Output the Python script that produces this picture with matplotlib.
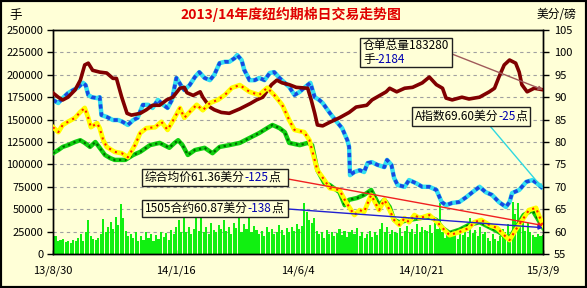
import numpy as np
import matplotlib
matplotlib.use('Agg')
import matplotlib.pyplot as plt
from matplotlib.patches import Rectangle

plt.rcParams['font.family'] = ['Noto Sans CJK SC', 'DejaVu Sans']

# ---------------- data ----------------
title = '2013/14年度纽约期棉日交易走势图'
left_unit = '手'
right_unit = '美分/磅'

x_tick_days = [0, 139, 278, 417, 556]
x_tick_labels = ['13/8/30', '14/1/16', '14/6/4', '14/10/21', '15/3/9']
left_ticks = [0, 25000, 50000, 75000, 100000, 125000, 150000, 175000, 200000, 225000, 250000]
right_ticks = [55, 60, 65, 70, 75, 80, 85, 90, 95, 100, 105]

# certificated stock (left axis, lots)
stock_days = [0, 6, 11, 17, 25, 31, 36, 40, 45, 53, 61, 68, 72, 78, 84, 89, 99, 106, 113, 121,
              129, 136, 144, 149, 152, 159, 167, 170, 178, 183, 191, 200, 212, 224, 231, 238, 248,
              254, 260, 268, 276, 289, 293, 297, 300, 306, 314, 325, 336, 344, 356, 362, 378, 382,
              390, 399, 408, 419, 427, 435, 442, 446, 453, 464, 472, 484, 495, 501, 506, 512, 518,
              525, 529, 532, 538, 546, 556]
stock_vals = [179700, 175000, 171900, 175000, 183000, 194000, 211000, 213000, 205000, 203000,
              202000, 196000, 196000, 175000, 157000, 155000, 157000, 161000, 166000, 166000,
              172000, 175000, 185000, 186000, 180000, 177000, 181000, 175000, 164000, 161000,
              158000, 157000, 162000, 168000, 172000, 175000, 189000, 194000, 191000, 189000,
              186000, 185000, 172000, 157000, 144000, 143000, 147000, 152000, 158000, 164000,
              166000, 172000, 181000, 185000, 181000, 185000, 186000, 191000, 197500, 189000,
              185000, 174000, 172000, 175000, 173000, 175000, 181000, 185000, 197500, 211000,
              216500, 213000, 203000, 189000, 181000, 185000, 183280]

# Cotlook A index (right axis)
aidx_days = [0, 6, 11, 17, 23, 28, 34, 37, 40, 44, 50, 53, 55, 61, 68, 74, 79, 85, 91, 96, 102,
             108, 113, 119, 125, 130, 135, 140, 145, 149, 155, 161, 166, 172, 178, 183, 189, 195,
             200, 206, 209, 214, 217, 223, 229, 234, 240, 246, 251, 257, 263, 268, 274, 280, 285,
             292, 297, 302, 306, 314, 322, 328, 334, 336, 337, 342, 348, 353, 357, 362, 368, 376,
             379, 384, 387, 391, 399, 404, 412, 419, 427, 435, 441, 446, 453, 461, 469, 476, 484,
             491, 498, 506, 514, 518, 521, 529, 537, 544, 549, 556]
aidx_vals = [89.4, 88.7, 89.8, 90.9, 91.6, 92.1, 93.2, 92.7, 90.5, 90.0, 89.8, 90.0, 86.0, 85.6,
             84.9, 84.9, 84.5, 83.8, 84.9, 85.4, 88.3, 88.3, 87.6, 89.4, 88.3, 87.6, 89.4, 94.3,
             92.7, 91.6, 92.7, 94.5, 95.6, 94.3, 93.8, 95.0, 97.6, 97.9, 97.9, 98.7, 99.4, 98.3,
             96.1, 93.8, 93.8, 94.3, 93.8, 95.4, 95.6, 94.3, 93.2, 92.3, 90.5, 91.2, 92.1, 93.2,
             90.0, 89.4, 88.7, 86.5, 84.5, 83.1, 80.4, 78.9, 72.6, 73.3, 73.7, 73.3, 75.3, 75.5,
             74.9, 74.4, 76.0, 74.9, 72.0, 70.4, 70.0, 71.5, 70.8, 70.0, 70.0, 69.3, 66.6, 65.9,
             66.4, 66.6, 67.7, 68.8, 70.0, 68.8, 68.2, 66.6, 65.5, 66.6, 68.6, 69.3, 71.1, 71.5,
             70.8, 69.60]

# combined average price (right axis)
avg_days = [0, 6, 11, 17, 25, 31, 36, 40, 43, 50, 53, 57, 61, 70, 78, 85, 93, 99, 106, 116, 123,
            130, 138, 144, 149, 155, 163, 170, 178, 187, 195, 203, 212, 223, 234, 243, 251, 260,
            268, 274, 285, 291, 300, 308, 314, 325, 331, 336, 342, 348, 353, 361, 370, 376, 382,
            387, 393, 399, 404, 410, 416, 427, 436, 444, 450, 461, 472, 478, 486, 495, 504, 512,
            518, 525, 534, 540, 548, 556]
avg_vals = [83.3, 82.2, 83.8, 84.5, 85.4, 86.7, 87.6, 85.4, 83.3, 84.2, 83.1, 80.4, 78.9, 77.8,
            77.5, 76.6, 79.3, 82.0, 83.1, 83.3, 84.5, 82.7, 85.4, 87.6, 85.4, 86.7, 88.3, 87.1,
            88.7, 89.4, 90.5, 92.1, 92.7, 91.2, 90.5, 92.1, 90.5, 88.3, 84.9, 82.7, 82.2, 80.4,
            73.7, 71.5, 69.7, 69.3, 67.1, 65.5, 63.7, 64.8, 64.4, 68.2, 64.8, 67.1, 64.8, 62.6,
            61.5, 63.0, 62.1, 63.7, 63.0, 63.7, 62.1, 60.4, 59.2, 59.9, 60.8, 62.1, 62.6, 61.5,
            60.8, 59.2, 58.1, 60.4, 63.0, 64.8, 65.3, 61.36]

# 1505 contract (right axis)
fut_days = [0, 6, 11, 17, 25, 31, 36, 42, 48, 53, 59, 65, 70, 82, 91, 99, 110, 121, 132, 138, 142,
            147, 153, 161, 172, 181, 189, 200, 212, 223, 234, 243, 249, 257, 263, 268, 280, 289,
            294, 300, 308, 314, 325, 331, 336, 345, 353, 361, 370, 376, 382, 387, 393, 404, 416,
            427, 435, 442, 450, 461, 472, 484, 495, 506, 512, 518, 525, 534, 544, 556]
fut_vals = [77.5, 78.2, 78.9, 79.3, 80.0, 80.4, 79.8, 78.9, 80.0, 78.7, 77.1, 76.4, 76.0, 76.0,
            77.1, 77.8, 79.3, 79.8, 78.7, 79.8, 80.4, 79.3, 77.1, 78.2, 78.7, 77.5, 78.9, 79.3,
            79.8, 80.9, 82.0, 83.1, 83.8, 83.1, 82.2, 79.8, 79.3, 79.8, 79.3, 73.7, 70.8, 70.4,
            68.8, 65.9, 67.1, 67.5, 68.2, 69.3, 65.9, 67.1, 65.5, 62.6, 62.1, 62.6, 63.0, 63.3,
            62.6, 60.8, 59.7, 60.4, 61.5, 62.1, 61.0, 59.9, 59.0, 58.6, 60.8, 63.7, 64.8, 60.87]

# daily volume (left axis, lots)
volume = [18000, 20000, 14000, 16000, 17000, 13000, 15000,
          12000, 16000, 14000, 18000, 22000, 15000,
          25000, 38000, 20000, 17000,
          16000, 18000, 22000,
          39000, 24000, 30000, 36000, 28000,
          41000, 32000, 56000, 40000,
          26000, 20000, 22000, 18000, 24000, 15000,
          20000, 16000, 24000, 18000, 22000, 14000,
          21000, 17000, 25000, 19000, 23000, 16000,
          27000, 22000, 30000, 38000, 25000, 40000,
          24000, 30000, 22000, 28000, 41000, 26000,
          43000, 25000, 30000, 22000, 35000, 27000,
          24000, 32000, 28000, 38000, 26000, 30000,
          22000, 35000, 29000, 40000, 25000, 33000,
          28000, 42000, 24000, 31000, 27000, 22000,
          26000, 20000, 30000, 24000, 28000, 22000,
          25000, 32000, 27000, 21000, 29000, 24000,
          30000, 26000, 34000, 28000, 31000, 57000,
          47000, 38000, 35000, 40000, 26000, 22000,
          24000, 18000, 27000, 22000, 25000, 20000,
          23000, 28000, 21000, 26000, 19000, 24000,
          27000, 22000, 29000, 20000, 25000, 18000,
          22000, 26000, 19000, 24000, 21000, 28000,
          35000, 24000, 30000, 22000, 27000, 25000,
          23000, 29000, 20000, 26000, 31000, 24000,
          28000, 22000, 33000, 25000, 30000, 27000,
          26000, 32000, 23000, 35000, 28000, 57000,
          25000, 18000, 27000, 22000, 20000, 26000,
          17000, 24000, 21000, 28000, 19000, 40000,
          23000, 27000, 20000, 30000, 22000, 25000,
          18000, 15000, 22000, 17000, 14000, 20000,
          28000, 25000, 33000, 22000, 58000, 45000,
          57000, 30000, 38000, 26000, 35000, 24000,
          21000, 19000, 22000, 20000, 21000]

stock_note = [[('仓单总量183280', 'black')], [('手', 'black'), ('-2184', '#0000B0')]]
aidx_note = [('A指数69.60美分', 'black'), ('-25', '#0000B0'), ('点', 'black')]
avg_note = [('综合均价61.36美分', 'black'), ('-125', '#0000B0'), ('点', 'black')]
fut_note = [('1505合约60.87美分', 'black'), ('-138', '#0000B0'), ('点', 'black')]

# ---------------- figure ----------------
W, H = 587, 288
BG = '#FFFFD7'
fig = plt.figure(figsize=(W / 100, H / 100), dpi=100, facecolor=BG)
renderer = fig.canvas.get_renderer()


def fx(x):
    return x / W


def fy(y):
    return 1 - y / H


ax = fig.add_axes([fx(53), fy(254), (543 - 53) / W, (254 - 30) / H])
ax.set_facecolor(BG)
ax2 = ax.twinx()

ax.yaxis.grid(True, linestyle=(0, (3, 3)), color='#A0A0A0', lw=0.8)
ax.set_axisbelow(True)

vol_days = np.linspace(0, 556, len(volume))
ax.bar(vol_days, volume, width=2.4, color='#11F011', lw=0, zorder=1)

# A index
ax2.plot(aidx_days, aidx_vals, color='#33E0F0', lw=3.2, zorder=2, solid_capstyle='butt')
ax2.plot(aidx_days, aidx_vals, color='#1848E0', lw=2.6, ls=(0, (1.2, 1.0)), zorder=2.1)
# stock on left scale, drawn on top axes for layering
ax2.plot(stock_days, stock_vals, transform=ax.transData, color='#800000', lw=2.6, zorder=3)
# 1505 contract
ax2.plot(fut_days, fut_vals, color='#10D010', lw=3.2, zorder=4)
ax2.plot(fut_days, fut_vals, color='#006A00', lw=1.6, ls=(0, (1, 1.6)), zorder=4.1)
# combined avg
ax2.plot(avg_days, avg_vals, color='#FFFF00', lw=3.4, zorder=5)
ax2.plot(avg_days, avg_vals, color='#FF2000', lw=1.5, ls=(0, (1, 2.2)), zorder=5.1)

ax.set_xlim(0, 556)
ax.set_ylim(0, 250000)
ax2.set_ylim(55, 105)
ax.set_yticks(left_ticks)
ax.set_yticklabels([str(v) for v in left_ticks])
ax2.set_yticks(right_ticks)
ax2.set_yticklabels([str(v) for v in right_ticks])
ax.set_xticks(x_tick_days)
ax.set_xticklabels(x_tick_labels)

ax.tick_params(axis='y', direction='out', length=4, width=1, labelsize=8, pad=3)
ax2.tick_params(axis='y', direction='out', length=4, width=1, labelsize=8, pad=4)
ax.tick_params(axis='x', direction='in', length=3, width=1, labelsize=8, pad=8)
for a in (ax, ax2):
    for s in a.spines.values():
        s.set_color('black')
        s.set_linewidth(1)

fig.text(fx(291), fy(14), title, color='#E00000', fontsize=10, fontweight='bold',
         ha='center', va='center')
fig.text(fx(9), fy(15), left_unit, fontsize=9, ha='left', va='center')
fig.text(fx(537), fy(15), right_unit, fontsize=8.5, ha='left', va='center')


def note(box, lines, size=8.5):
    x0, y0, x1, y1 = box
    fig.patches.append(Rectangle((fx(x0), fy(y1)), (x1 - x0) / W, (y1 - y0) / H,
                                 transform=fig.transFigure, fc=BG, ec='#202020', lw=1,
                                 zorder=10))
    n = len(lines)
    lh = (y1 - y0) / n
    for i, parts in enumerate(lines):
        yc = y0 + lh * (i + 0.5)
        cx = x0 + 3
        for txt, col in parts:
            t = fig.text(fx(cx), fy(yc), txt, color=col, fontsize=size, ha='left',
                         va='center', zorder=11)
            bb = t.get_window_extent(renderer)
            cx += bb.width


def connector(xy, coords, start, color):
    ax2.annotate('', xy=xy, xycoords=coords, xytext=(fx(start[0]), fy(start[1])),
                 textcoords='figure fraction',
                 arrowprops=dict(arrowstyle='-|>', color=color, lw=1, mutation_scale=6,
                                 shrinkA=0, shrinkB=0), zorder=6)


connector((stock_days[-1], stock_vals[-1]), ax.transData, (452, 54), '#A05A5A')
connector((aidx_days[-1], aidx_vals[-1]), 'data', (490, 126), '#30D8E0')
connector((avg_days[-1], avg_vals[-1]), 'data', (288, 179), '#F02020')
connector((fut_days[-1], fut_vals[-1]), 'data', (288, 209), '#2020D0')

note((360, 38, 452, 67), stock_note)
note((412, 107, 530, 126), [aidx_note])
note((142, 169, 288, 186), [avg_note])
note((142, 200, 288, 217), [fut_note])

fig.patches.append(Rectangle((0, 0), 1, 1, transform=fig.transFigure, fill=False,
                             ec='black', lw=3, zorder=20))

fig.savefig('out.png', dpi=100, facecolor=BG)
